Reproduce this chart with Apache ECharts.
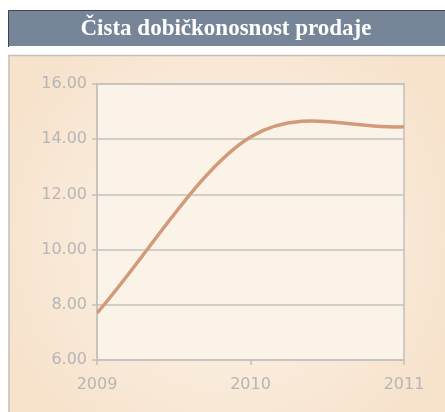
<!DOCTYPE html>
<html>
<head>
<meta charset="utf-8">
<script src="https://cdn.jsdelivr.net/npm/echarts@6/dist/echarts.min.js"></script>
<style>
  html, body { margin: 0; padding: 0; background: #fff; }
  #chart { width: 445px; height: 412px; }
</style>
</head>
<body>
<div id="chart"></div>
<script>
var titleText = "Čista dobičkonosnost prodaje";
var years = ["2009", "2010", "2011"];
var values = [7.7, 14.08, 14.45];
var yTicks = [6, 8, 10, 12, 14, 16];

// catmull-rom style curve segment between point i and i+1
function renderCurve(params, api) {
  var i = params.dataIndex;
  if (i >= values.length - 1) return null;
  var pt = function (k) { return api.coord([k, values[k]]); };
  var p0 = pt(i), p1 = pt(i + 1);
  var prev = i > 0 ? pt(i - 1) : null;
  var next = i + 2 < values.length ? pt(i + 2) : null;
  var t0 = prev ? [(p1[0] - prev[0]) / 2, (p1[1] - prev[1]) / 2] : [p1[0] - p0[0], p1[1] - p0[1]];
  var t1 = next ? [(next[0] - p0[0]) / 2, (next[1] - p0[1]) / 2] : [p1[0] - p0[0], p1[1] - p0[1]];
  return {
    type: "bezierCurve",
    shape: {
      x1: p0[0], y1: p0[1],
      x2: p1[0], y2: p1[1],
      cpx1: p0[0] + t0[0] / 3, cpy1: p0[1] + t0[1] / 3,
      cpx2: p1[0] - t1[0] / 3, cpy2: p1[1] - t1[1] / 3
    },
    style: { stroke: "#d29a78", lineWidth: 3.5, fill: null }
  };
}

var myChart = echarts.init(document.getElementById("chart"));
myChart.setOption({
  animation: false,
  graphic: [
    {
      // title bar
      type: "rect",
      shape: { x: 8, y: 10, width: 440, height: 36 },
      style: { fill: "#778599" },
      z: 0
    },
    {
      type: "polyline",
      shape: { points: [[8.5, 47], [8.5, 10.5], [445, 10.5]] },
      style: { stroke: "#3a4650", lineWidth: 1, fill: null },
      z: 1
    },
    {
      type: "text",
      x: 226,
      y: 29,
      style: {
        text: titleText,
        fill: "#ffffff",
        font: "bold 23px 'Liberation Serif', 'DejaVu Serif', serif",
        align: "center",
        verticalAlign: "middle"
      },
      z: 2
    },
    {
      // chart panel
      type: "rect",
      shape: { x: 9, y: 55.5, width: 440, height: 362 },
      style: {
        fill: new echarts.graphic.RadialGradient(0.5, 0.5, 0.7, [
          { offset: 0, color: "#fcf5ec" },
          { offset: 1, color: "#f7e2cb" }
        ]),
        stroke: "#c4c0bb",
        lineWidth: 1.5
      },
      z: -1
    }
  ],
  grid: {
    left: 97,
    right: 41,
    top: 84,
    bottom: 52,
    show: true,
    backgroundColor: "#fbf3e8",
    borderColor: "#c3c0bc",
    borderWidth: 1.5
  },
  xAxis: {
    type: "category",
    data: years,
    boundaryGap: false,
    axisLine: { show: false },
    axisTick: {
      show: true,
      length: 5,
      lineStyle: { color: "#c3c0bc", width: 1.5 }
    },
    axisLabel: {
      color: "#b6b6b6",
      fontSize: 16,
      fontFamily: "'DejaVu Sans', sans-serif",
      margin: 17
    },
    splitLine: { show: false }
  },
  yAxis: {
    type: "value",
    min: yTicks[0],
    max: yTicks[yTicks.length - 1],
    interval: 2,
    axisLine: { show: true, lineStyle: { color: "#c3c0bc", width: 1.5 } },
    axisTick: { show: true, length: 5, lineStyle: { color: "#c3c0bc", width: 1.5 } },
    axisLabel: {
      color: "#b6b6b6",
      fontSize: 16,
      fontFamily: "'DejaVu Sans', sans-serif",
      margin: 10,
      formatter: function (v) { return v.toFixed(2); }
    },
    splitLine: { show: true, lineStyle: { color: "#c3c0bc", width: 1.5 } }
  },
  series: [
    {
      type: "custom",
      data: values.map(function (v, k) { return [k, v]; }),
      renderItem: renderCurve,
      clip: true
    }
  ]
});
</script>
</body>
</html>
